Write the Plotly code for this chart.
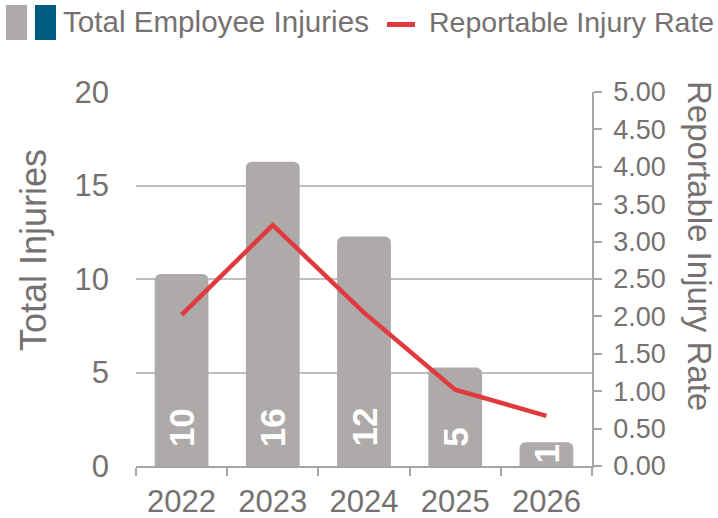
import plotly.graph_objects as go

# --- data -------------------------------------------------------------
years = ["2022", "2023", "2024", "2025", "2026"]
total_injuries = [10, 16, 12, 5, 1]
injury_rate = [2.02, 3.22, 2.05, 1.02, 0.67]

bar_name = "Total Employee Injuries"
line_name = "Reportable Injury Rate"
left_title = "Total Injuries"
right_title = "Reportable Injury Rate"

# --- styling ------------------------------------------------------------
W, H = 718, 518
M_L, M_R, M_T, M_B = 136, 126, 92, 52
TEXT = "#767171"
BAR = "#AEAAA9"
BLUE = "#005B82"
RED = "#E0393E"
GRID = "#BFBFBF"
AXIS = "#A6A6A6"
FONT = "Liberation Sans"
Y_MAX = 20
LABEL_SIZE = 35
BAR_OUTLINE = 10

plot_w = W - M_L - M_R
plot_h = H - M_T - M_B
px_per_unit = plot_h / Y_MAX


def px_x(x):
    """Pixel column -> paper x."""
    return (x - M_L) / plot_w


def px_y(y):
    """Pixel row -> paper y."""
    return (H - M_B - y) / plot_h


fig = go.Figure()

# bars: a thick outline in the fill colour gives slightly fuller columns
fig.add_trace(go.Bar(
    x=years, y=total_injuries, name=bar_name,
    marker=dict(color=BAR, cornerradius=1,
                line=dict(width=BAR_OUTLINE, color=BAR)),
    width=0.48, showlegend=False, yaxis="y",
))

fig.add_trace(go.Scatter(
    x=years, y=injury_rate, name=line_name, mode="lines",
    line=dict(color=RED, width=4.5), showlegend=False, yaxis="y2",
))

annotations = []
# value labels: at the base of each bar, or centred when the bar is short
for i, v in enumerate(total_injuries):
    label_len = len(str(v)) * 0.556 * LABEL_SIZE
    bar_px = v * px_per_unit + BAR_OUTLINE / 2
    if bar_px > label_len + 24:
        pos = dict(y=0, yanchor="bottom", yshift=17)
    else:
        pos = dict(y=v / 2, yanchor="middle", yshift=BAR_OUTLINE / 4)
    annotations.append(dict(
        x=i, xref="x", yref="y", text=f"<b>{v}</b>",
        textangle=-90, showarrow=False, xanchor="center",
        font=dict(family=FONT, size=LABEL_SIZE, color="white"), **pos,
    ))

# axis titles
annotations.append(dict(
    x=px_x(33), y=px_y(250), xref="paper", yref="paper", text=left_title,
    textangle=-90, showarrow=False, xanchor="center", yanchor="middle",
    font=dict(family=FONT, size=36, color=TEXT),
))
annotations.append(dict(
    x=px_x(700), y=px_y(246), xref="paper", yref="paper", text=right_title,
    textangle=90, showarrow=False, xanchor="center", yanchor="middle",
    font=dict(family=FONT, size=33, color=TEXT),
))

# legend entries
annotations.append(dict(
    x=px_x(61), y=px_y(22), xref="paper", yref="paper", text=bar_name,
    showarrow=False, xanchor="left", yanchor="middle",
    font=dict(family=FONT, size=29.6, color=TEXT),
))
annotations.append(dict(
    x=px_x(427), y=px_y(22), xref="paper", yref="paper", text=line_name,
    showarrow=False, xanchor="left", yanchor="middle",
    font=dict(family=FONT, size=28.5, color=TEXT),
))

shapes = [
    dict(type="rect", xref="paper", yref="paper",
         x0=px_x(6), x1=px_x(27), y0=px_y(40), y1=px_y(5),
         fillcolor=BAR, line=dict(width=0)),
    dict(type="rect", xref="paper", yref="paper",
         x0=px_x(35), x1=px_x(56), y0=px_y(40), y1=px_y(5),
         fillcolor=BLUE, line=dict(width=0)),
    dict(type="line", xref="paper", yref="paper",
         x0=px_x(387), x1=px_x(415), y0=px_y(24.5), y1=px_y(24.5),
         line=dict(color=RED, width=5)),
]

fig.update_layout(
    width=W, height=H,
    margin=dict(l=M_L, r=M_R, t=M_T, b=M_B, autoexpand=False),
    paper_bgcolor="white", plot_bgcolor="white",
    font=dict(family=FONT, color=TEXT),
    showlegend=False,
    annotations=annotations,
    shapes=shapes,
    xaxis=dict(
        type="category", range=[-0.5, len(years) - 0.5],
        tickson="boundaries", ticks="outside", ticklen=8,
        tickcolor=AXIS, tickwidth=1.5, showline=True, linecolor=AXIS,
        linewidth=1.5, showgrid=False, tickangle=0,
        tickfont=dict(family=FONT, size=31, color=TEXT),
        ticklabelstandoff=7,
    ),
    yaxis=dict(
        range=[0, Y_MAX], dtick=5, showgrid=True, gridcolor=GRID,
        gridwidth=1.5, zeroline=False, showline=False, ticks="",
        tickfont=dict(family=FONT, size=31, color=TEXT), ticklabelstandoff=26,
    ),
    yaxis2=dict(
        range=[0, 5], dtick=0.5, tickformat=".2f", overlaying="y",
        side="right", showgrid=False, zeroline=False, showline=True,
        linecolor=AXIS, linewidth=1.5, ticks="outside", ticklen=8,
        tickcolor=AXIS, tickwidth=1.5,
        tickfont=dict(family=FONT, size=27, color=TEXT),
        ticklabelstandoff=6,
    ),
)

fig.write_html("out.html")
